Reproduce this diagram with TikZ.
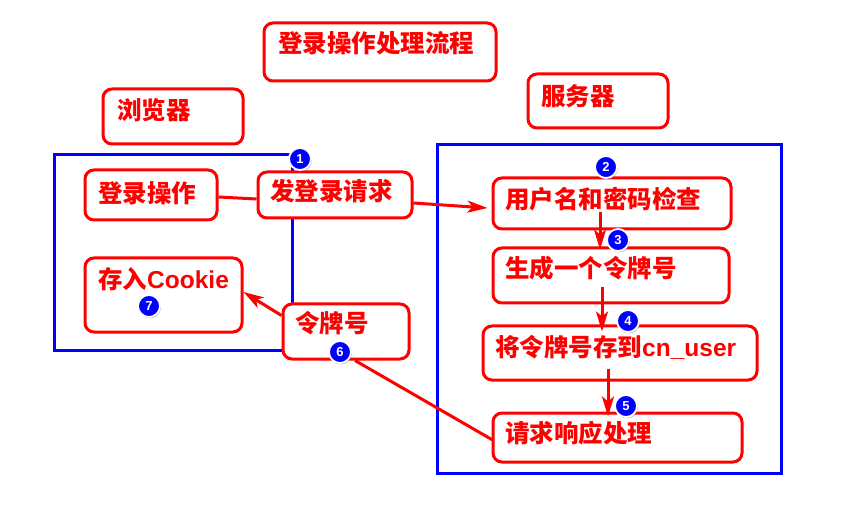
\documentclass[tikz,border=0pt]{standalone}
\usepackage{fontspec}
\setmainfont{Liberation Sans}
\newfontfamily\cjk{Noto Sans CJK SC}
\usetikzlibrary{arrows.meta,shadows}

\begin{document}
\begin{tikzpicture}[x=1pt,y=-1pt,
  box/.style={draw=red, line width=3pt, rounded corners=9pt, fill=white, inner sep=0pt},
  txt/.style={anchor=base west, inner sep=0pt, text=red, font=\fontsize{24.5}{24.5}\selectfont\bfseries},
  frame/.style={draw=blue, line width=3pt, inner sep=0pt},
  link/.style={draw=red, line width=3pt},
  arr/.style={link, -{Stealth[length=20pt,width=12pt,inset=5pt]}},
  badge/.style={circle, fill=blue, draw=white, line width=1.8pt, minimum size=22pt, inner sep=0pt,
    text=white, font=\fontsize{13}{13}\selectfont\bfseries,
    drop shadow={shadow xshift=1pt, shadow yshift=-1.5pt, opacity=0.45}}
]
\fill[white] (0,0) rectangle (856,518);
\useasboundingbox (0,0) rectangle (856,518);

% browser and server groups
\node[frame, minimum width=238pt, minimum height=195pt] (client) at (173,252.5) {};
\node[frame, minimum width=344pt, minimum height=328pt] (server) at (609,309) {};

% boxes
\node[box, minimum width=232pt, minimum height=58pt] (title) at (380,52) {};
\node[box, minimum width=140pt, minimum height=55pt] (brw) at (173,116.5) {};
\node[box, minimum width=140pt, minimum height=54pt] (srv) at (598,101) {};
\node[box, minimum width=132pt, minimum height=50pt] (op) at (151,195) {};
\node[box, minimum width=154pt, minimum height=46pt] (req) at (335,195) {};
\node[box, minimum width=157pt, minimum height=74pt] (ck) at (163.5,295) {};
\node[box, minimum width=126pt, minimum height=55pt] (tok) at (346,331.5) {};
\node[box, minimum width=238pt, minimum height=51pt] (b1) at (612,203.5) {};
\node[box, minimum width=236pt, minimum height=55pt] (b2) at (611,275.5) {};
\node[box, minimum width=274pt, minimum height=54pt] (b3) at (620,353) {};
\node[box, minimum width=249pt, minimum height=49pt] (b4) at (617.5,437.5) {};

% labels
\node[txt] (title-t) at (278,53) {\cjk 登录操作处理流程};
\node[txt] (brw-t) at (117,120) {\cjk 浏览器};
\node[txt] (srv-t) at (541,106) {\cjk 服务器};
\node[txt] (op-t) at (98,203) {\cjk 登录操作};
\node[txt] (req-t) at (270,201) {\cjk 发登录请求};
\node[txt] (ck-t) at (98,289) {{\cjk 存入}Cookie};
\node[txt] (tok-t) at (295,333) {\cjk 令牌号};
\node[txt] (b1-t) at (505,209) {\cjk 用户名和密码检查};
\node[txt] (b2-t) at (505,278) {\cjk 生成一个令牌号};
\node[txt] (b3-t) at (495,356) {{\cjk 将令牌号存到}cn\_user};
\node[txt] (b4-t) at (505,442) {\cjk 请求响应处理};

% connectors
\draw[link] ([yshift=-2pt]op.east) -- ([yshift=-4pt]req.west);
\draw[arr] ([yshift=-8pt]req.east) -- ([xshift=-4pt,yshift=-4.5pt]b1.west);
\draw[arr] ([xshift=-12pt,yshift=18pt]b1.south) -- ([xshift=-11pt,yshift=-3pt]b2.north);
\draw[arr] ([xshift=-9pt,yshift=17pt]b2.south) -- ([xshift=-18pt,yshift=-7pt]b3.north);
\draw[arr] ([xshift=-12pt,yshift=13pt]b3.south) -- ([xshift=-9.5pt,yshift=-5pt]b4.north);
\draw[link] ([xshift=2pt,yshift=-3pt]b4.west) -- ([xshift=9pt]tok.south);
\draw[arr] ([yshift=16pt]tok.west) -- ([yshift=3pt]ck.east);

% step badges
\node[badge] (n1) at (300,159) {1};
\node[badge] (n2) at (606,167) {2};
\node[badge] (n3) at (618,240) {3};
\node[badge] (n4) at (628,321) {4};
\node[badge] (n5) at (626,406) {5};
\node[badge] (n6) at (340,352) {6};
\node[badge] (n7) at (149,306) {7};
\end{tikzpicture}
\end{document}
